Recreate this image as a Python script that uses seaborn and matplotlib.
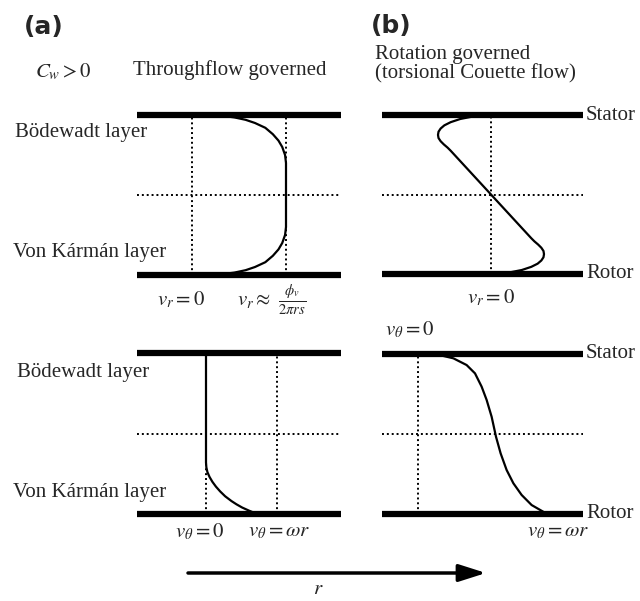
import numpy as np
import pandas as pd
import matplotlib
matplotlib.use("Agg")
import matplotlib.pyplot as plt
import seaborn as sns

# ---------------- data (normalised velocity v, normalised height z: 0 = rotor, 1 = stator)
# (a) throughflow governed, radial velocity v_r / (phi_v / 2 pi r s)
ar_z = [1.00, 0.985, 0.97, 0.95, 0.92, 0.88, 0.84, 0.80, 0.75, 0.70, 0.50,
        0.30, 0.25, 0.20, 0.16, 0.12, 0.08, 0.05, 0.03, 0.015, 0.00]
ar_v = [0.25, 0.45, 0.57, 0.67, 0.78, 0.86, 0.92, 0.96, 0.99, 1.00, 1.00,
        1.00, 0.99, 0.96, 0.92, 0.86, 0.78, 0.67, 0.57, 0.45, 0.25]

# (b) torsional Couette flow, radial velocity (arbitrary units)
br_z = [1.00, 0.99, 0.975, 0.955, 0.935, 0.915, 0.895, 0.875, 0.855, 0.835, 0.815, 0.795, 0.775,
        0.50,
        0.225, 0.205, 0.185, 0.165, 0.145, 0.125, 0.105, 0.085, 0.065, 0.045, 0.025, 0.01, 0.00]
br_v = [-0.10, -0.35, -0.58, -0.76, -0.88, -0.95, -0.99, -1.00, -0.99, -0.95, -0.89, -0.82, -0.76,
        0.00,
        0.76, 0.82, 0.89, 0.95, 0.99, 1.00, 0.99, 0.95, 0.88, 0.76, 0.58, 0.35, 0.10]

# (a) throughflow governed, tangential velocity v_theta / (omega r)
at_z = [1.00, 0.32, 0.29, 0.26, 0.23, 0.20, 0.17, 0.14, 0.11, 0.08, 0.06, 0.04, 0.02, 0.00]
at_v = [0.00, 0.00, 0.005, 0.02, 0.05, 0.09, 0.14, 0.20, 0.27, 0.36, 0.43, 0.51, 0.61, 0.72]

# (b) torsional Couette flow, tangential velocity v_theta / (omega r)
bt_z = [1.00, 0.973, 0.931, 0.879, 0.796, 0.713, 0.608, 0.483, 0.379, 0.275, 0.192, 0.119, 0.056, 0.015, 0.00]
bt_v = [0.136, 0.283, 0.389, 0.456, 0.509, 0.549, 0.589, 0.624, 0.661, 0.709, 0.763, 0.829, 0.909, 1.00, 1.03]

# ---------------- style
sns.set_style("white")
plt.rcParams["font.family"] = ["Liberation Serif", "DejaVu Serif"]
plt.rcParams["mathtext.fontset"] = "stix"

W, H = 640, 601
fig = plt.figure(figsize=(W / 100, H / 100), dpi=100)

bg = fig.add_axes([0, 0, 1, 1])
bg.set_xlim(0, W)
bg.set_ylim(H, 0)
bg.set_axis_off()


def panel(x0, x1, ytop, ybot, zero_px, unit_px, dotted_v, v, z):
    ax = fig.add_axes([x0 / W, 1 - ybot / H, (x1 - x0) / W, (ybot - ytop) / H])
    ax.patch.set_alpha(0)
    ax.set_xlim((x0 - zero_px) / unit_px, (x1 - zero_px) / unit_px)
    ax.set_ylim(0, 1)
    ax.set_axis_off()
    dots = (0, (1, 1.5))
    for dv in dotted_v:
        ax.axvline(dv, color="k", lw=1.4, ls=dots, zorder=1)
    ax.axhline(0.5, color="k", lw=1.4, ls=dots, zorder=1)
    df = pd.DataFrame({"v": v, "z": z})
    sns.lineplot(data=df, x="v", y="z", sort=False, estimator=None,
                 color="k", lw=1.6, ax=ax, zorder=3)
    for zz in (0, 1):
        ax.axhline(zz, color="k", lw=4.5, solid_capstyle="butt", clip_on=False, zorder=4)
    return ax


panel(137, 341, 115, 275, 192, 94, [0, 1], ar_v, ar_z)
panel(382, 583, 115, 274, 491, 53, [0], br_v, br_z)
panel(137, 341, 353, 514, 206, 71, [0, 1], at_v, at_z)
panel(382, 583, 354, 514, 418, 125, [0], bt_v, bt_z)

fs = 15
# panel letters
bg.text(24, 27, "(a)", fontsize=18, fontweight="bold", family="DejaVu Sans", va="center", ha="left")
bg.text(371, 26, "(b)", fontsize=18, fontweight="bold", family="DejaVu Sans", va="center", ha="left")

# headers
bg.text(35, 72, r"$C_w > 0$", fontsize=fs, va="center", ha="left")
bg.text(133, 70, "Throughflow governed", fontsize=fs, va="center", ha="left")
bg.text(375, 55, "Rotation governed", fontsize=fs, va="center", ha="left")
bg.text(375, 74, "(torsional Couette flow)", fontsize=fs, va="center", ha="left")

# layer labels
bg.text(15, 133, "Bödewadt layer", fontsize=fs, va="center", ha="left")
bg.text(13, 253, "Von Kármán layer", fontsize=fs, va="center", ha="left")
bg.text(17, 372, "Bödewadt layer", fontsize=fs, va="center", ha="left")
bg.text(13, 493, "Von Kármán layer", fontsize=fs, va="center", ha="left")

# stator / rotor
for y, s in [(115, "Stator"), (274, "Rotor"), (354, "Stator"), (514, "Rotor")]:
    bg.text(586, y, s, fontsize=fs, va="center", ha="left")

# velocity labels
bg.text(157, 300, r"$v_r = 0$", fontsize=fs, va="center", ha="left")
bg.text(237, 300, r"$v_r \approx\ \frac{\phi_v}{2\pi rs}$", fontsize=fs, va="center", ha="left")
bg.text(467, 298, r"$v_r = 0$", fontsize=fs, va="center", ha="left")
bg.text(385, 330, r"$v_\theta = 0$", fontsize=fs, va="center", ha="left")
bg.text(175, 532, r"$v_\theta = 0$", fontsize=fs, va="center", ha="left")
bg.text(248, 532, r"$v_\theta = \omega r$", fontsize=fs, va="center", ha="left")
bg.text(527, 532, r"$v_\theta = \omega r$", fontsize=fs, va="center", ha="left")

# r arrow
bg.annotate("", xy=(486, 573), xytext=(188, 573),
            arrowprops=dict(arrowstyle="-|>,head_length=1.1,head_width=0.35",
                            mutation_scale=15, lw=2.5, color="k",
                            shrinkA=0, shrinkB=0))
bg.text(318, 590, r"$r$", fontsize=fs, va="center", ha="center")

fig.savefig("out.png", dpi=100)
